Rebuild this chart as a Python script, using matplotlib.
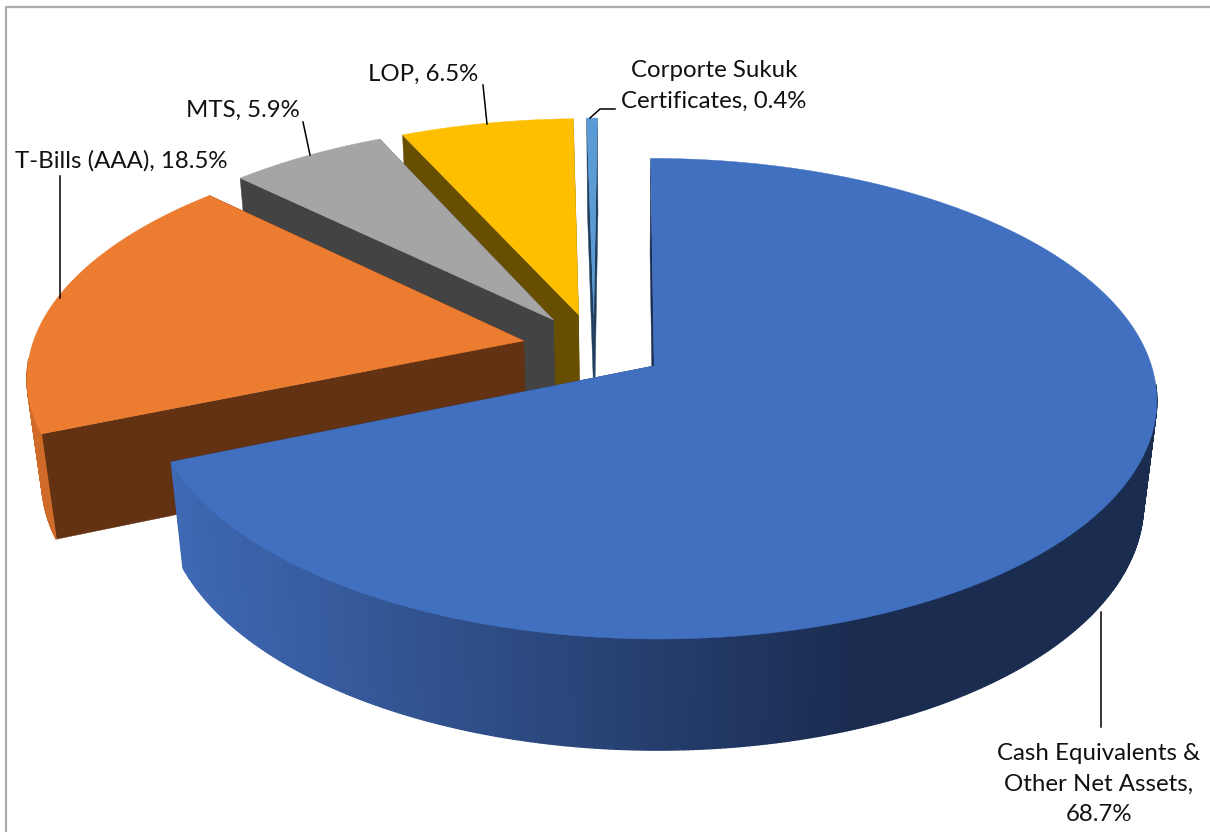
import numpy as np
from matplotlib import pyplot as plt
from matplotlib.colors import to_rgb

names = ['Cash Equivalents &\nOther Net Assets,\n', 'T-Bills (AAA), ', 'MTS, ', 'LOP, ', 'Corporte Sukuk\nCertificates, ']
values = [68.7, 18.5, 5.9, 6.5, 0.4]

top_colors = ['#4270c1', '#ec7c30', '#a5a5a5', '#fdbf00', '#5b9bd5']
cut_colors = ['#1a2c50', '#633212', '#434343', '#674e00', '#1f3e5e']
rim_left = ['#3f69b4', '#ec7c30', '#a5a5a5', '#fdbf00', '#5b9bd5']

# pie geometry, in pixels
cx, cy = 594, 347
vanish_x = 625
rx, ry = 492, 230.7
depth = 105
persp = 0.135
persp_z = 0.025
explode = 0.146


def project(u, v, z=0.0):
    s = 1 / (1 - persp * v + persp_z * z)
    return vanish_x + (cx + rx * u - vanish_x) * s, cy + (ry * v + depth * z) * s


def rim_point(theta, off):
    return off[0] + np.sin(theta), off[1] - np.cos(theta)


def quad(p, q, z0=0.0, z1=1.0):
    return [project(*p, z0), project(*q, z0), project(*q, z1), project(*p, z1)]


def mix(a, b, t):
    a, b = np.array(to_rgb(a)), np.array(to_rgb(b))
    return tuple(a + (b - a) * np.clip(t, 0, 1))


fig = plt.figure(figsize=(12.1, 8.32), dpi=100)
ax = fig.add_axes([0, 0, 1, 1])
ax.set_xlim(0, 1210)
ax.set_ylim(832, 0)
ax.axis('off')

# thin chart frame
ax.plot([6, 6, 1210], [832, 7, 7], color='#ababab', lw=1.6, zorder=0)

edges = np.cumsum([0] + values) / sum(values) * 2 * np.pi
slices = list(range(len(values)))

# back slices first so the big one ends up in front
for i in slices[::-1]:
    a0, a1 = edges[i], edges[i + 1]
    mid = (a0 + a1) / 2
    off = (explode * np.sin(mid), -explode * np.cos(mid))
    angles = np.linspace(a0, a1, max(8, int((a1 - a0) * 120)))
    rim = [rim_point(t, off) for t in angles]
    z = 2 + (len(values) - i)

    # flat cut faces
    for p in (rim[0], rim[-1]):
        ax.fill(*zip(*quad(off, p)), color=cut_colors[i], lw=0.3, zorder=z)

    # outer wall, shaded by horizontal position
    for p, q in zip(rim[:-1], rim[1:]):
        # the far part of the wall is hidden behind the top face
        if p[1] - off[1] < 0.08 and q[1] - off[1] < 0.08:
            continue
        xpos = project(*p)[0]
        t = (xpos - 170) / 690
        if i == 0:
            c = mix(rim_left[i], cut_colors[i], t)
        elif i == 1:
            c = mix('#d06a28', '#b85d20', t)
        else:
            c = cut_colors[i]
        ax.fill(*zip(*quad(p, q)), color=c, lw=1.0, zorder=z)

    # top face
    pts = [project(*off)] + [project(*p) for p in rim]
    ax.fill(*zip(*pts), color=top_colors[i], lw=0.3, zorder=z + 0.5)

text_style = dict(family=['Lato', 'DejaVu Sans'], fontsize=17.3, color='#111111', ha='center', va='center', zorder=20)
label_at = [(1099, 784), (121, 161), (243, 110), (423, 74), (714, 86)]
for name, val, pos in zip(names, values, label_at):
    ax.text(pos[0], pos[1], f'{name}{val}%', linespacing=1.58, **text_style)

# leader lines
leaders = [
    ([1101, 1101], [612, 727]),
    ([60, 60], [176, 298]),
    ([303, 310], [122, 155]),
    ([483, 487], [85, 124]),
    ([590, 600, 615], [118, 109, 109]),
]
for xs, ys in leaders:
    ax.plot(xs, ys, color='black', lw=1.1, zorder=19)

fig.savefig('out.png', dpi=100)
